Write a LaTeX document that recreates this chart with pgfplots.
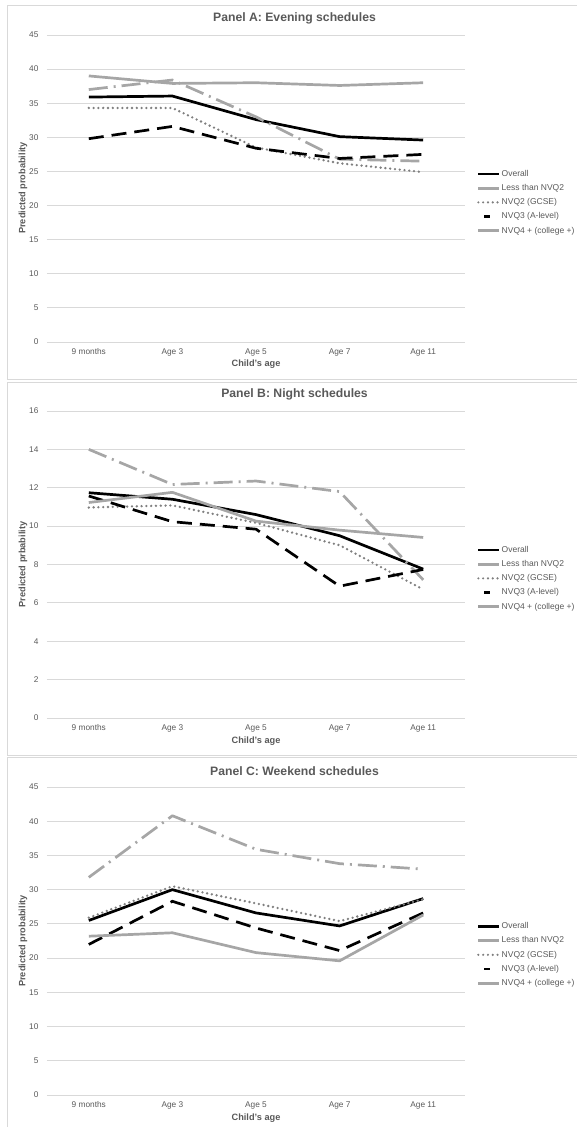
\documentclass[border=0pt]{standalone}
\usepackage{fontspec}
\setmainfont{Liberation Sans}
\usepackage{pgfplots}
\pgfplotsset{compat=1.18}
\definecolor{txt}{HTML}{595959}
\definecolor{gridc}{HTML}{D9D9D9}
\definecolor{lgray}{HTML}{A6A6A6}
\definecolor{dgray}{HTML}{7F7F7F}

\pgfplotsset{
 panel/.style={
  scale only axis, width=418pt, anchor=south west,
  xmin=-0.5, xmax=4.5, ymin=0,
  xtick={0,...,4}, xticklabels={9 months, Age 3, Age 5, Age 7, Age 11},
  axis line style={draw=none}, major tick length=0pt,
  ymajorgrids, grid style={gridc, line width=0.8pt},
  ticklabel style={font=\fontsize{8.3}{10}\selectfont, text=txt},
  /pgf/number format/assume math mode=true,
  yticklabel style={xshift=-5pt},
  xticklabel style={yshift=-3pt},
  clip=false,
  legend style={at={(1.0287,0.5627)}, anchor=north west, draw=none, fill=none,
    inner sep=0pt, outer sep=0pt, row sep=4.7pt,
    font=\fontsize{8.5}{10}\selectfont, text=txt,
    nodes={inner sep=1pt, text height=6pt, text depth=1.5pt}},
  legend cell align=left,
  legend image code/.code={\draw[#1] (0pt,0pt) -- (21pt,0pt);},
 },
 sOverall/.style={black, line width=2.7pt, line join=round},
 sLess/.style={lgray, line width=2.7pt, line join=round, dash pattern=on 19pt off 6pt on 2pt off 6pt},
 sNVQtwo/.style={dgray, line width=2.6pt, line cap=round, dash pattern=on 0pt off 4.8pt},
 sNVQthree/.style={black, line width=2.7pt, dash pattern=on 15pt off 8pt},
 sNVQfour/.style={lgray, line width=2.7pt, line join=round},
}
\newcommand{\mylegend}{%
  \addlegendimage{black, line width=2.7pt}
  \addlegendentry{Overall}
  \addlegendimage{lgray, line width=2.7pt}
  \addlegendentry{Less than NVQ2}
  \addlegendimage{dgray, line width=2.4pt, line cap=round, dash pattern=on 0pt off 4.8pt}
  \addlegendentry{NVQ2 (GCSE)}
  \addlegendimage{legend image code/.code={\draw[black, line width=2.7pt] (6pt,0pt) -- (12pt,0pt);}}
  \addlegendentry{NVQ3 (A-level)}
  \addlegendimage{lgray, line width=2.7pt}
  \addlegendentry{NVQ4 + (college +)}
}

\begin{document}
\begin{tikzpicture}
\useasboundingbox (0pt,0pt) rectangle (576pt,1127pt);
% panel borders
\draw[gridc, line width=0.8pt] (7pt,748pt) rectangle (600pt,1122pt);
\draw[gridc, line width=0.8pt] (7pt,372pt) rectangle (600pt,745pt);
\draw[gridc, line width=0.8pt] (7pt,-10pt) rectangle (600pt,370pt);

% ---------- Panel A ----------
\begin{axis}[panel, at={(47pt,785pt)}, height=307pt, ymax=45, ytick distance=5]
\addplot[sOverall, forget plot] coordinates {(0,35.9) (1,36.05) (2,32.6) (3,30.1) (4,29.6)};
\addplot[sLess, forget plot] coordinates {(0,37.0) (1,38.4) (2,33.0) (3,26.8) (4,26.5)};
\addplot[sNVQtwo, forget plot] coordinates {(0,34.3) (1,34.3) (2,28.5) (3,26.2) (4,24.9)};
\addplot[sNVQthree, forget plot] coordinates {(0,29.8) (1,31.6) (2,28.4) (3,26.9) (4,27.5)};
\addplot[sNVQfour, forget plot] coordinates {(0,39.0) (1,37.9) (2,38.0) (3,37.6) (4,38.0)};
\mylegend
\end{axis}
\node[font=\bfseries\fontsize{12.2}{14}\selectfont, text=txt] at (294.5pt,1109pt) {Panel A: Evening schedules};
\node[font=\bfseries\fontsize{9.2}{11}\selectfont, text=txt] at (256pt,763pt) {Child's age};
\node[font=\bfseries\fontsize{9.2}{11}\selectfont, text=txt, rotate=90] at (23pt,939pt) {Predicted probability};

% ---------- Panel B ----------
\begin{axis}[panel, at={(47pt,409pt)}, height=307pt, ymax=16, ytick distance=2]
\addplot[sOverall, forget plot] coordinates {(0,11.74) (1,11.4) (2,10.6) (3,9.5) (4,7.76)};
\addplot[sLess, forget plot] coordinates {(0,14.0) (1,12.17) (2,12.35) (3,11.8) (4,7.2)};
\addplot[sNVQtwo, forget plot] coordinates {(0,10.97) (1,11.08) (2,10.17) (3,9.0) (4,6.7)};
\addplot[sNVQthree, forget plot] coordinates {(0,11.57) (1,10.23) (2,9.84) (3,6.87) (4,7.74)};
\addplot[sNVQfour, forget plot] coordinates {(0,11.23) (1,11.76) (2,10.26) (3,9.79) (4,9.41)};
\mylegend
\end{axis}
\node[font=\bfseries\fontsize{12.2}{14}\selectfont, text=txt] at (294.5pt,733pt) {Panel B: Night schedules};
\node[font=\bfseries\fontsize{9.2}{11}\selectfont, text=txt] at (256pt,386pt) {Child's age};
\node[font=\bfseries\fontsize{9.2}{11}\selectfont, text=txt, rotate=90] at (23pt,562.5pt) {Predicted prbability};

% ---------- Panel C ----------
\begin{axis}[panel, at={(47pt,32pt)}, height=308pt, ymax=45, ytick distance=5]
\addplot[sOverall, forget plot] coordinates {(0,25.5) (1,30.0) (2,26.6) (3,24.7) (4,28.7)};
\addplot[sLess, forget plot] coordinates {(0,31.8) (1,40.8) (2,35.9) (3,33.8) (4,33.0)};
\addplot[sNVQtwo, forget plot] coordinates {(0,25.9) (1,30.5) (2,28.0) (3,25.4) (4,28.6)};
\addplot[sNVQthree, forget plot] coordinates {(0,22.0) (1,28.3) (2,24.4) (3,21.1) (4,26.6)};
\addplot[sNVQfour, forget plot] coordinates {(0,23.2) (1,23.7) (2,20.8) (3,19.6) (4,26.3)};
\mylegend
\end{axis}
\node[font=\bfseries\fontsize{12.2}{14}\selectfont, text=txt] at (294.5pt,356pt) {Panel C: Weekend schedules};
\node[font=\bfseries\fontsize{9.2}{11}\selectfont, text=txt] at (256pt,9pt) {Child's age};
\node[font=\bfseries\fontsize{9.2}{11}\selectfont, text=txt, rotate=90] at (23pt,186pt) {Predicted probability};
\end{tikzpicture}
\end{document}
